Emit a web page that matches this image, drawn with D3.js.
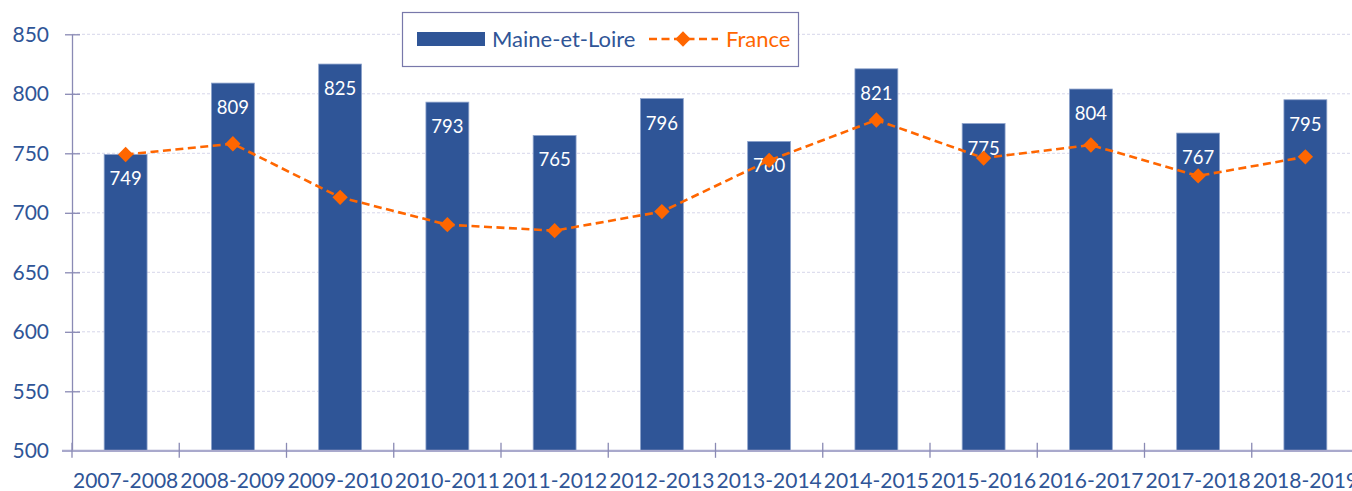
<!DOCTYPE html>
<html><head><meta charset="utf-8">
<script src="https://cdn.jsdelivr.net/npm/d3@7"></script>
<style>body{margin:0;background:#fff;overflow:hidden}svg{display:block;font-family:Lato,"Open Sans",sans-serif}</style>
</head><body><svg id="c" width="1352" height="491"></svg>
<script>
const categories = ["2007-2008","2008-2009","2009-2010","2010-2011","2011-2012","2012-2013","2013-2014","2014-2015","2015-2016","2016-2017","2017-2018","2018-2019"];
const maineEtLoire = [749,809,825,793,765,796,760,821,775,804,767,795];
const france = [749,758,713,690,685,701,744,778,746,757,731,747];
const yTicks = [500,550,600,650,700,750,800,850];

(function(){
const BLUE = "#2F5597", ORANGE = "#FF6600", AXIS = "#8a8ab4";
const svg = d3.select("#c");
const mLeft = 72, mTop = 34.3, mBottom = 450.8, plotW = 12*107.25;

const x = d3.scaleBand().domain(categories).range([mLeft, mLeft+plotW]).paddingInner(0.6).paddingOuter(0.3);
const y = d3.scaleLinear().domain([500,850]).range([mBottom, mTop]);

// gridlines
svg.append("g").selectAll("line").data(yTicks.filter(t=>t>500)).join("line")
  .attr("x1", mLeft).attr("x2", mLeft+plotW).attr("y1", d=>y(d)).attr("y2", d=>y(d))
  .attr("stroke", "#d6d6ea").attr("stroke-width", 1).attr("stroke-dasharray", "3,2");

// bars
svg.append("g").selectAll("rect").data(maineEtLoire).join("rect")
  .attr("x", (d,i)=>x(categories[i])).attr("width", x.bandwidth())
  .attr("y", d=>y(d)).attr("height", d=>y(500)-y(d))
  .attr("fill", BLUE).attr("stroke", "#8ea3cc").attr("stroke-width", 0.8);

// y axis
const yAxis = d3.axisLeft(y).tickValues(yTicks).tickSize(0).tickPadding(23);
const gy = svg.append("g").attr("transform", `translate(${mLeft},0)`).call(yAxis);
gy.select(".domain").attr("stroke", AXIS).attr("stroke-width", 1.3);
gy.selectAll("text").attr("fill", BLUE).attr("font-size", 21).attr("font-family", "Lato");
gy.selectAll(".tick").append("line").attr("x1", -7).attr("x2", 8).attr("stroke", AXIS).attr("stroke-width", 1.3);

// x axis
const gx = svg.append("g").attr("transform", `translate(0,${mBottom})`);
gx.append("line").attr("x1", mLeft-10).attr("x2", mLeft+plotW).attr("stroke", "#a9a9cc").attr("stroke-width", 2.2);
const step = x.step();
gx.selectAll("line.tk").data(d3.range(13)).join("line").attr("class","tk")
  .attr("x1", i=>mLeft+i*step).attr("x2", i=>mLeft+i*step).attr("y1", -8).attr("y2", 7)
  .attr("stroke", AXIS).attr("stroke-width", 1.3);
gx.selectAll("text").data(categories).join("text")
  .attr("x", d=>x(d)+x.bandwidth()/2).attr("y", 37)
  .attr("text-anchor", "middle").attr("fill", BLUE).attr("font-size", 21).text(d=>d);

// France line
const cx = i => x(categories[i]) + x.bandwidth()/2;
const line = d3.line().x((d,i)=>cx(i)).y(d=>y(d));
svg.append("path").datum(france).attr("d", line).attr("fill","none")
  .attr("stroke", ORANGE).attr("stroke-width", 2.6).attr("stroke-dasharray", "8,4.5");

// bar labels
svg.append("g").selectAll("text").data(maineEtLoire).join("text")
  .attr("x", (d,i)=>cx(i)).attr("y", d=>y(d)+31)
  .attr("text-anchor","middle").attr("fill","#fff").attr("font-size", 18.5).text(d=>d);

// markers
const diamond = d3.symbol().type(d3.symbolDiamond2).size(150);
svg.append("g").selectAll("path").data(france).join("path")
  .attr("d", diamond).attr("transform", (d,i)=>`translate(${cx(i)},${y(d)})`).attr("fill", ORANGE);

// legend
const lg = svg.append("g");
lg.append("rect").attr("x", 402.5).attr("y", 12.5).attr("width", 396).attr("height", 54)
  .attr("fill", "#fff").attr("stroke", "#7878aa").attr("stroke-width", 1.2);
lg.append("rect").attr("x", 417).attr("y", 32).attr("width", 68).attr("height", 14).attr("fill", BLUE);
lg.append("text").attr("x", 492).attr("y", 46.5).attr("fill", BLUE).attr("font-size", 22).text("Maine-et-Loire");
lg.append("line").attr("x1", 649).attr("x2", 718).attr("y1", 39).attr("y2", 39)
  .attr("stroke", ORANGE).attr("stroke-width", 2.6).attr("stroke-dasharray", "8,4.5");
lg.append("path").attr("d", diamond).attr("transform", "translate(683,39)").attr("fill", ORANGE);
lg.append("text").attr("x", 726).attr("y", 46.5).attr("fill", ORANGE).attr("font-size", 22).text("France");
})();
</script></body></html>
